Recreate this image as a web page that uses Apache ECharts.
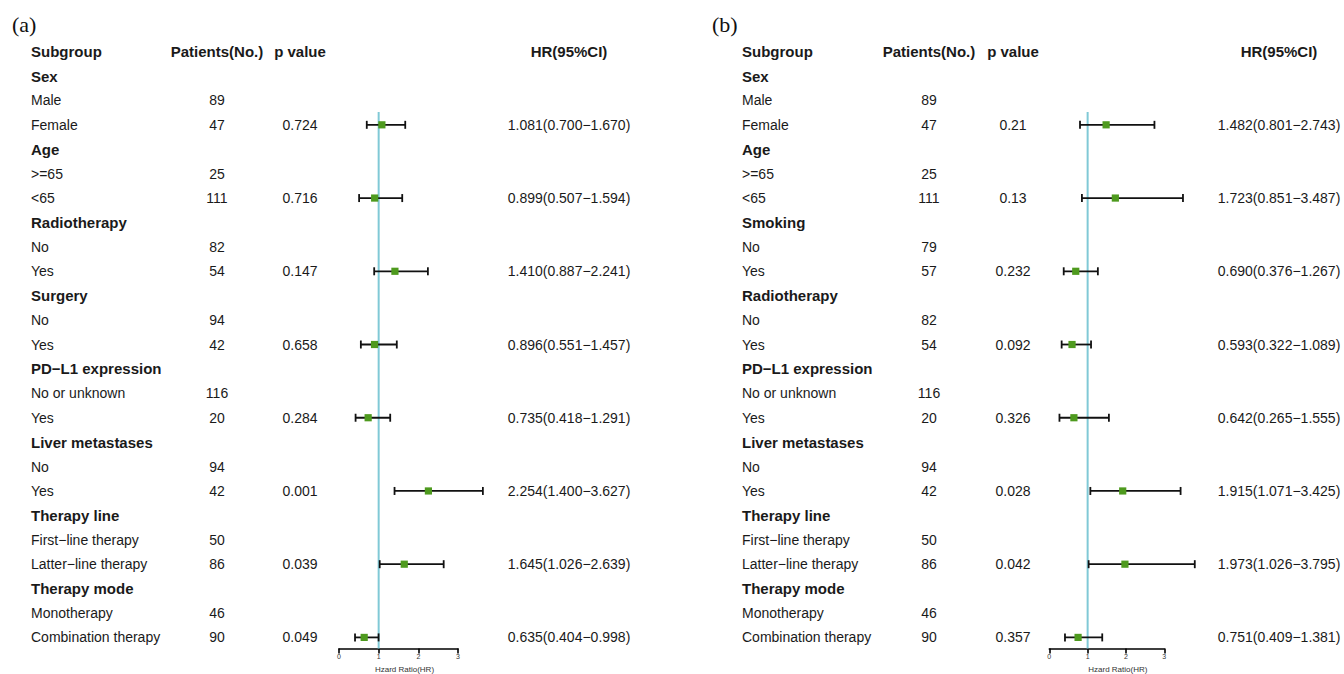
<!DOCTYPE html>
<html><head><meta charset="utf-8">
<script src="https://cdn.jsdelivr.net/npm/echarts@6/dist/echarts.min.js"></script>
<style>html,body{margin:0;padding:0;background:#fff}#c{width:1344px;height:674px}</style>
</head><body><div id="c"></div>
<script>
// ---------- DATA ----------
const labelsA = ["Sex","Male","Female","Age",">=65","<65","Radiotherapy","No","Yes","Surgery","No","Yes",
  "PD\u2212L1 expression","No or unknown","Yes","Liver metastases","No","Yes","Therapy line",
  "First\u2212line therapy","Latter\u2212line therapy","Therapy mode","Monotherapy","Combination therapy"];
const patientsA = [null,89,47,null,25,111,null,82,54,null,94,42,null,116,20,null,94,42,null,50,86,null,46,90];
const pValuesA = ["0.724","0.716","0.147","0.658","0.284","0.001","0.039","0.049"];
const hrA = [1.081,0.899,1.410,0.896,0.735,2.254,1.645,0.635];
const lowA = [0.700,0.507,0.887,0.551,0.418,1.400,1.026,0.404];
const highA = [1.670,1.594,2.241,1.457,1.291,3.627,2.639,0.998];

const labelsB = ["Sex","Male","Female","Age",">=65","<65","Smoking","No","Yes","Radiotherapy","No","Yes",
  "PD\u2212L1 expression","No or unknown","Yes","Liver metastases","No","Yes","Therapy line",
  "First\u2212line therapy","Latter\u2212line therapy","Therapy mode","Monotherapy","Combination therapy"];
const patientsB = [null,89,47,null,25,111,null,79,57,null,82,54,null,116,20,null,94,42,null,50,86,null,46,90];
const pValuesB = ["0.21","0.13","0.232","0.092","0.326","0.028","0.042","0.357"];
const hrB = [1.482,1.723,0.690,0.593,0.642,1.915,1.973,0.751];
const lowB = [0.801,0.851,0.376,0.322,0.265,1.071,1.026,0.409];
const highB = [2.743,3.487,1.267,1.089,1.555,3.425,3.795,1.381];

const headers = ["Subgroup","Patients(No.)","p value","HR(95%CI)"];
const xTicks = [0,1,2,3];
const refValue = 1;
// ---------- LAYOUT ----------
const FONT = "'Liberation Sans', Arial, sans-serif";
const colsA = {sub:31, pat:217, p:300, hr:569};
const colsB = {sub:742, pat:929, p:1013, hr:1279};
const estRows = [3,6,9,12,15,18,21,24]; // rows carrying estimates (second level)
const groupRows = [1,4,7,10,13,16,19,22];

function fmt(v){return v.toFixed(3);}

function tableRows(labels, patients, pvals, hr, lo, hi){
  const rows = [{row:0, cells:headers, bold:true}];
  labels.forEach((lab,i)=>{
    const r=i+1; const k=estRows.indexOf(r);
    rows.push({row:r, bold:groupRows.indexOf(r)>=0,
      cells:[lab, patients[i]==null?'':String(patients[i]),
        k>=0?pvals[k]:'', k>=0?(fmt(hr[k])+'('+fmt(lo[k])+'\u2212'+fmt(hi[k])+')'):'']});
  });
  return rows;
}
function textSeries(rows, cols, axisIdx){
  return {
    type:'custom', xAxisIndex:axisIdx, yAxisIndex:axisIdx, clip:false, silent:true, z:5,
    data: rows.map(r=>[0,r.row]),
    encode:{x:0,y:1},
    renderItem:function(params, api){
      const r = rows[params.dataIndex];
      const y = api.coord([0, r.row])[1];
      const xs=[cols.sub, cols.pat, cols.p, cols.hr];
      const al=['left','center','center','center'];
      const children=[];
      r.cells.forEach((t,j)=>{
        if(!t) return;
        const bold = r.row===0 || (j===0 && r.bold);
        children.push({type:'text', x:xs[j], y:y, style:{text:t, fill:'#1a1a1a',
          font:(bold?'bold ':'')+(bold?'15px ':'14px ')+FONT,
          textAlign:al[j], textVerticalAlign:'middle', align:al[j], verticalAlign:'middle'}});
      });
      return {type:'group', children:children};
    }
  };
}
function forestSeries(hr, lo, hi, axisIdx){
  return {
    type:'custom', xAxisIndex:axisIdx, yAxisIndex:axisIdx, clip:false, silent:true, z:4,
    data: hr.map((v,k)=>[v, lo[k], hi[k], estRows[k]]),
    encode:{x:0,y:3},
    renderItem:function(params, api){
      const row=api.value(3);
      const pm=api.coord([api.value(0),row]);
      const pl=api.coord([api.value(1),row]);
      const ph=api.coord([api.value(2),row]);
      const y=pm[1], cap=4, s=3.6;
      const st={stroke:'#111', lineWidth:1.8};
      return {type:'group', children:[
        {type:'line', shape:{x1:pl[0],y1:y,x2:ph[0],y2:y}, style:st},
        {type:'line', shape:{x1:pl[0],y1:y-cap,x2:pl[0],y2:y+cap}, style:st},
        {type:'line', shape:{x1:ph[0],y1:y-cap,x2:ph[0],y2:y+cap}, style:st},
        {type:'rect', shape:{x:pm[0]-s,y:y-s,width:2*s,height:2*s}, style:{fill:'#4e9a1e'}}
      ]};
    }
  };
}
function refLine(axisIdx){
  return {type:'line', xAxisIndex:axisIdx, yAxisIndex:axisIdx, symbol:'none', silent:true, z:2,
    data:[[refValue,2.47],[refValue,24.45]], lineStyle:{color:'#80c9d6', width:2}};
}
function xAx(gi, pad){
  return {type:'value', gridIndex:gi, position:'bottom', min:xTicks[0], max:xTicks[xTicks.length-1], interval:1,
    axisLine:{show:true, onZero:false, lineStyle:{color:'#000', width:1.6}},
    axisTick:{show:true, length:5, lineStyle:{color:'#000', width:1.6}},
    splitLine:{show:false},
    axisLabel:{fontSize:7, color:'#333', margin:5, fontFamily:FONT},
    name:'Hzard Ratio(HR)', nameLocation:'middle', nameGap:17,
    nameTextStyle:{fontSize:8, color:'#333', fontFamily:FONT, verticalAlign:'middle', lineHeight:9, padding:[0,0,0,pad]}};
}
function yAx(gi){
  return {type:'value', gridIndex:gi, min:0, max:24.45, inverse:true, show:false};
}

const chart = echarts.init(document.getElementById('c'), null, {renderer:'svg'});
chart.setOption({
  animation:false,
  backgroundColor:'#fff',
  title:[
    {text:'(a)', left:7, top:8, textStyle:{fontFamily:"'Liberation Serif', serif", fontSize:22, fontWeight:'normal', color:'#111'}},
    {text:'(b)', left:707, top:8, textStyle:{fontFamily:"'Liberation Serif', serif", fontSize:22, fontWeight:'normal', color:'#111'}}
  ],
  grid:[
    {left:339, width:119, top:51.6, height:596.8, containLabel:false, outerBoundsMode:'none'},
    {left:1049.3, width:115, top:51.6, height:596.8, containLabel:false, outerBoundsMode:'none'}
  ],
  xAxis:[xAx(0,12), xAx(1,22)],
  yAxis:[yAx(0), yAx(1)],
  series:[
    refLine(0), refLine(1),
    forestSeries(hrA, lowA, highA, 0),
    forestSeries(hrB, lowB, highB, 1),
    textSeries(tableRows(labelsA, patientsA, pValuesA, hrA, lowA, highA), colsA, 0),
    textSeries(tableRows(labelsB, patientsB, pValuesB, hrB, lowB, highB), colsB, 1)
  ]
});
</script></body></html>
